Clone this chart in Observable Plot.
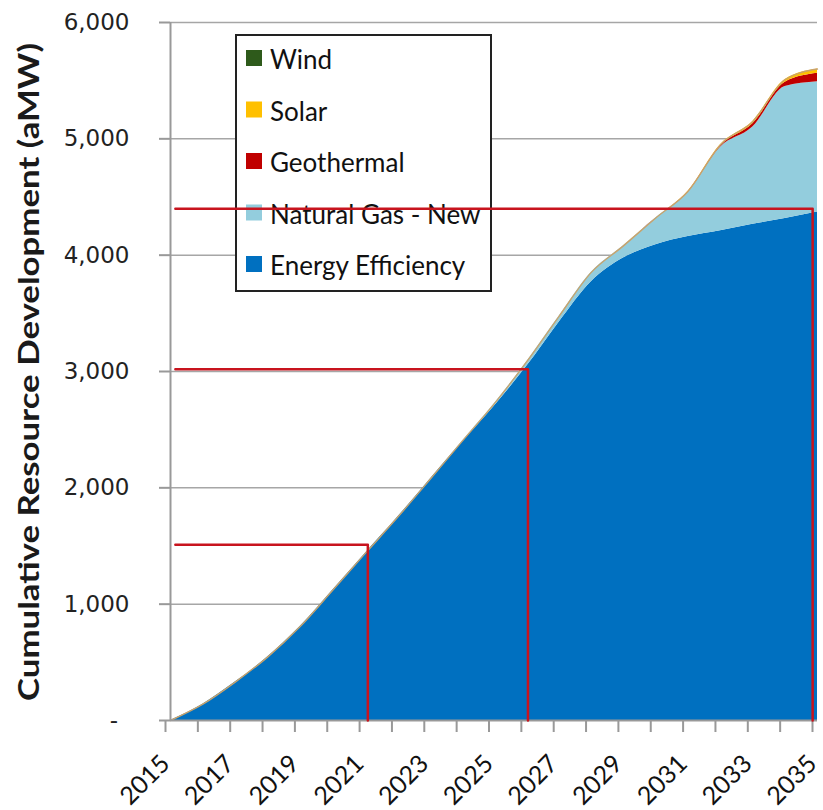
<!DOCTYPE html>
<html>
<head>
<meta charset="utf-8">
<script src="https://cdn.jsdelivr.net/npm/d3@7"></script>
<script src="https://cdn.jsdelivr.net/npm/@observablehq/plot@0.6"></script>
<style>
  html, body { margin: 0; padding: 0; background: white; }
  #chart svg { display: block; }
</style>
</head>
<body>
<div id="chart"></div>
<script>
// ---- data ----
const years = [2015,2016,2017,2018,2019,2020,2021,2022,2023,2024,2025,2026,2027,2028,2029,2030,2031,2032,2033,2034,2035];
const energyEfficiency = [0,140,330,545,805,1115,1430,1740,2065,2390,2700,3040,3420,3770,3975,4090,4160,4210,4265,4315,4370];
const naturalGasNew    = [0,0,0,0,0,0,0,0,0,5,20,40,50,80,105,230,380,718,836,1135,1121];
const geothermal       = [0,0,0,0,0,0,0,0,0,0,0,0,0,0,0,0,5,12,29,37,72];
const solar            = [0,0,0,0,0,0,0,0,0,0,0,0,0,0,0,0,5,10,20,23,37];
const wind             = [0,0,0,0,0,0,0,0,0,0,0,0,0,0,0,0,0,0,0,0,0];

const seriesNames  = ["Energy Efficiency", "Natural Gas - New", "Geothermal", "Solar", "Wind"];
const seriesColors = ["#0070C0", "#93CDDD", "#C00000", "#FFC000", "#2E5A1B"];
const legendOrder  = ["Wind", "Solar", "Geothermal", "Natural Gas - New", "Energy Efficiency"];

const yTicks = [0, 1000, 2000, 3000, 4000, 5000, 6000];
const xLabelYears = [2015,2017,2019,2021,2023,2025,2027,2029,2031,2033,2035];

// red reference markers (L-shaped lines)
const markerStart  = 2015.15;
const markerYears  = [2021.1, 2026.05, 2034.85];
const markerValues = [1510, 3020, 4400];

const yTitle = "Cumulative Resource Development (aMW)";

// ---- build tables ----
const seriesValues = [energyEfficiency, naturalGasNew, geothermal, solar, wind];
const data = years.flatMap((yr, i) => seriesNames.map((s, j) => ({year: yr, series: s, value: seriesValues[j][i]})));
const totals = years.map((yr, i) => ({year: yr, value: seriesValues.reduce((a, arr) => a + arr[i], 0)}));
const markerLines = markerYears.flatMap((yr, i) => [
  {id: i, year: markerStart, value: markerValues[i]},
  {id: i, year: yr, value: markerValues[i]},
  {id: i, year: yr, value: 0}
]);

const chart = Plot.plot({
  width: 823,
  height: 810,
  marginLeft: 170,
  marginRight: 6,
  marginTop: 22,
  marginBottom: 90,
  style: {fontFamily: "Lato", background: "white", color: "#1a1a1a"},
  x: {domain: [2015, 2035]},
  y: {domain: [0, 6000]},
  color: {domain: seriesNames, range: seriesColors},
  marks: [
    Plot.gridY(yTicks.filter(d => d > 0), {stroke: "#a6a6a6", strokeOpacity: 1, strokeWidth: 1.5}),
    Plot.areaY(data, {x: "year", y: "value", z: "series", fill: "series", order: seriesNames, curve: "monotone-x"}),
    Plot.line(totals, {x: "year", y: "value", stroke: "#c9a36c", strokeWidth: 1.4, curve: "monotone-x"}),
    Plot.ruleX([2015], {stroke: "#999", strokeWidth: 2}),
    Plot.ruleY([0], {stroke: "#999", strokeWidth: 2}),
    Plot.axisY(yTicks, {
      tickSize: 11, tickPadding: 30, fontSize: 23, fontFamily: "DejaVu Sans",
      stroke: "#999", strokeWidth: 2, fill: "#222", label: null,
      tickFormat: d => d === 0 ? "-\u2002" : d3.format(",")(d)
    }),
    Plot.axisX(years, {
      tickSize: 12, tickPadding: 27, fontSize: 25, tickRotate: -45, dx: -5,
      stroke: "#999", strokeWidth: 2, fill: "#111", label: null,
      tickFormat: d => xLabelYears.includes(d) ? String(d) : ""
    }),
    Plot.line(markerLines, {x: "year", y: "value", z: "id", stroke: "#C8141E", strokeWidth: 2.5, className: "markers"})
  ]
});

document.getElementById("chart").appendChild(chart);

const svg = d3.select(chart);

// y-axis title
svg.append("text")
  .attr("transform", "translate(27,372) rotate(-90)")
  .attr("text-anchor", "middle")
  .attr("dominant-baseline", "central")
  .attr("font-family", "Lato")
  .attr("font-weight", "bold")
  .attr("font-size", 29)
  .attr("fill", "#1a1a1a")
  .attr("textLength", 658)
  .attr("lengthAdjust", "spacingAndGlyphs")
  .text(yTitle);

// legend (drawn beneath the red markers)
const colorOf = Object.fromEntries(seriesNames.map((s, i) => [s, seriesColors[i]]));
const lg = svg.insert("g", "g.markers").attr("class", "legend");
lg.append("rect")
  .attr("x", 236).attr("y", 35).attr("width", 255).attr("height", 256)
  .attr("fill", "white").attr("stroke", "#222").attr("stroke-width", 2);
legendOrder.forEach((name, i) => {
  const cy = 58 + i * 51.5;
  lg.append("rect").attr("x", 246).attr("y", cy - 8).attr("width", 16).attr("height", 16).attr("fill", colorOf[name]);
  lg.append("text").attr("x", 270).attr("y", cy + 1).attr("dominant-baseline", "central")
    .attr("text-anchor", "start")
    .attr("font-family", "Lato").attr("font-size", 26).attr("fill", "#111").text(name);
});
</script>
</body>
</html>
